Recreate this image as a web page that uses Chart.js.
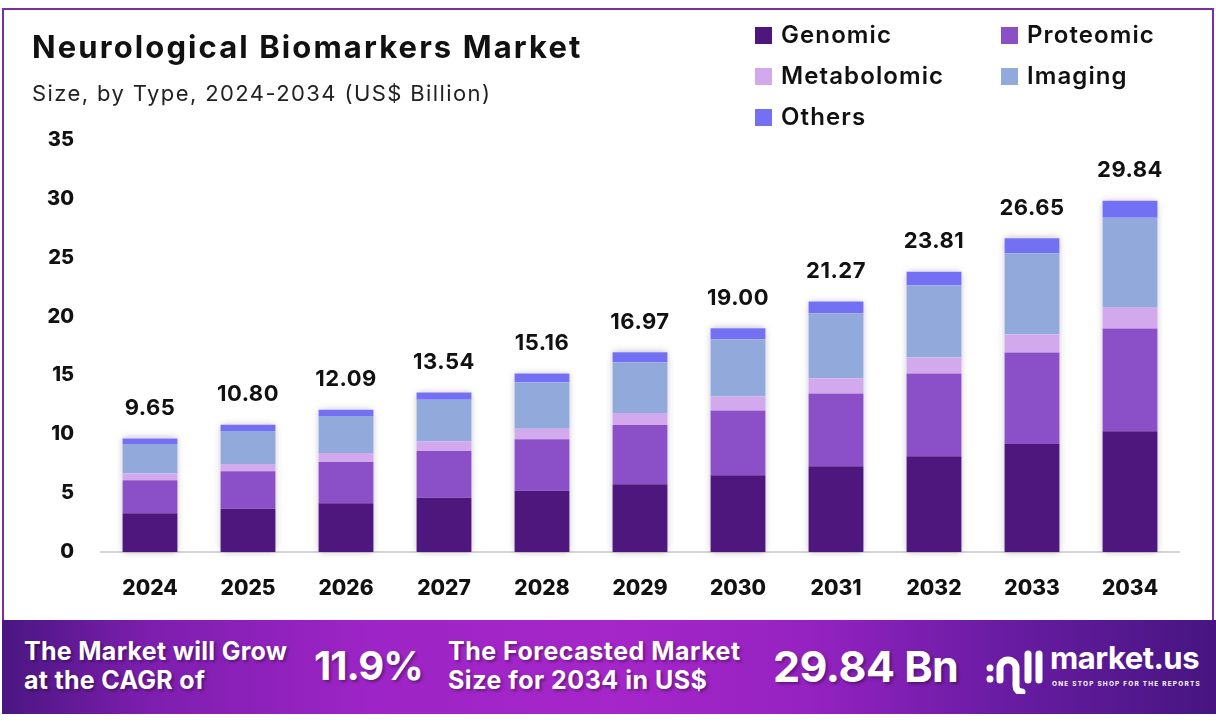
<!DOCTYPE html>
<html>
<head>
<meta charset="utf-8">
<script src="https://cdn.jsdelivr.net/npm/chart.js@4"></script>
<style>
  html, body { margin:0; padding:0; background:#fff; }
  #wrap { position:relative; width:1216px; height:722px; overflow:hidden; background:#fff; font-family: Inter, "Noto Sans", sans-serif; }
  #frame { position:absolute; left:2px; top:8px; width:1208px; height:620px; border:2px solid #7a2f9c; border-bottom:none; }
  #cv { position:absolute; left:0; top:0; }
  .title { position:absolute; left:32px; top:28px; font-weight:700; font-size:31px; color:#111; white-space:nowrap; letter-spacing:2.1px; }
  .sub { position:absolute; left:32px; top:80px; font-weight:400; font-size:22px; color:#222; white-space:nowrap; letter-spacing:1.4px; }
  .leg { position:absolute; font-weight:600; font-size:24px; color:#111; white-space:nowrap; line-height:26px; letter-spacing:1.1px; }
  .leg i { display:inline-block; width:17px; height:17px; margin-right:9px; vertical-align:-1px; }
  #foot { position:absolute; left:2px; top:620px; width:1214px; height:94px;
    background: linear-gradient(90deg, #4a1682 0%, #7d1eae 12%, #9d24c6 30%, #a526c9 50%, #9622c2 66%, #6a1ca4 82%, #461580 100%); }
  .ft { position:absolute; color:#fff; font-weight:700; white-space:nowrap; text-shadow: 2px 2px 3px rgba(0,0,0,0.35); }
</style>
</head>
<body>
<div id="wrap">
  <div id="frame"></div>
  <canvas id="cv" width="1216" height="620"></canvas>
  <div class="title">Neurological Biomarkers Market</div>
  <div class="sub">Size, by Type, 2024-2034 (US$ Billion)</div>
  <div id="legend"></div>
  <div id="foot">
    <div class="ft" style="left:22px;top:17px;font-size:25px;line-height:29px;letter-spacing:0.3px;">The Market will Grow<br>at the CAGR of</div>
    <div class="ft" style="left:312px;top:21px;font-size:40px;letter-spacing:-1px;">11.9%</div>
    <div class="ft" style="left:446px;top:17px;font-size:25px;line-height:29px;letter-spacing:0.5px;">The Forecasted Market<br>Size for 2034 in US$</div>
    <div class="ft" style="left:771px;top:20px;font-size:43px;letter-spacing:-0.5px;">29.84 Bn</div>
    <svg style="position:absolute;left:982px;top:26px;" width="62" height="48" viewBox="0 0 62 48">
      <g fill="none" stroke="#fff" stroke-width="7" stroke-linecap="round">
        <path d="M16 34 V22 a8 8 0 0 1 16 0 V40 a6 6 0 0 0 6 6"/>
        <path d="M44 8 V34"/>
        <path d="M55 8 V34"/>
      </g>
      <circle cx="6" cy="22" r="3.5" fill="#fff"/>
      <circle cx="6" cy="33" r="3.5" fill="#fff"/>
    </svg>
    <div class="ft" style="left:1048px;top:19px;font-size:31px;letter-spacing:-0.5px;text-shadow:none;">market.us</div>
    <div class="ft" style="left:1050px;top:60px;font-size:6.5px;letter-spacing:1.2px;text-shadow:none;">ONE STOP SHOP FOR THE REPORTS</div>
  </div>
</div>
<script>
const years = ["2024","2025","2026","2027","2028","2029","2030","2031","2032","2033","2034"];
const totals = [9.65, 10.80, 12.09, 13.54, 15.16, 16.97, 19.00, 21.27, 23.81, 26.65, 29.84];
const genomic     = [3.30, 3.67, 4.15, 4.60, 5.20, 5.76, 6.53, 7.29, 8.14, 9.18, 10.25];
const proteomic   = [2.80, 3.19, 3.50, 3.98, 4.38, 5.03, 5.50, 6.18, 7.03, 7.77, 8.73];
const metabolomic = [0.57, 0.62, 0.77, 0.83, 0.90, 1.02, 1.19, 1.30, 1.36, 1.52, 1.78];
const imaging     = [2.51, 2.80, 3.13, 3.53, 3.93, 4.32, 4.86, 5.51, 6.12, 6.90, 7.63];
const others      = [0.47, 0.52, 0.54, 0.60, 0.75, 0.84, 0.92, 0.99, 1.16, 1.28, 1.45];
const yTicks = [0, 5, 10, 15, 20, 25, 30, 35];

const seriesNames = ["Genomic","Proteomic","Metabolomic","Imaging","Others"];
const seriesColors = ["#4e177d","#8b4fc8","#d1a9ec","#91a9db","#7470f4"];
const seriesData = [genomic, proteomic, metabolomic, imaging, others];

const FONT = 'Inter, "Noto Sans", sans-serif';

// legend (HTML)
const legPos = [[755,22],[1001,22],[755,63],[1001,63],[755,104]];
const legEl = document.getElementById('legend');
seriesNames.forEach((n,i)=>{
  const d = document.createElement('div');
  d.className='leg';
  d.style.left = legPos[i][0]+'px';
  d.style.top = legPos[i][1]+'px';
  d.innerHTML = '<i style="background:'+seriesColors[i]+'"></i>'+n;
  legEl.appendChild(d);
});

const shadowPlugin = {
  id:'barShadow',
  beforeDatasetsDraw(chart){
    const ctx = chart.ctx, y = chart.scales.y;
    const meta = chart.getDatasetMeta(0);
    ctx.save();
    ctx.shadowColor = 'rgba(60,40,80,0.35)';
    ctx.shadowBlur = 7;
    ctx.fillStyle = '#fff';
    meta.data.forEach((bar,i)=>{
      const top = y.getPixelForValue(totals[i]);
      const base = y.getPixelForValue(0);
      ctx.fillRect(bar.x - bar.width/2, top, bar.width, base-top);
    });
    ctx.restore();
  },
  afterDatasetsDraw(chart){
    const ctx = chart.ctx, y = chart.scales.y;
    const meta = chart.getDatasetMeta(0);
    ctx.save();
    ctx.font = '700 22px ' + FONT;
    ctx.letterSpacing = '0.5px';
    ctx.fillStyle = '#111';
    ctx.textAlign = 'center';
    ctx.textBaseline = 'middle';
    meta.data.forEach((bar,i)=>{
      const top = y.getPixelForValue(totals[i]);
      ctx.fillText(totals[i].toFixed(2), bar.x, top - 30);
    });
    ctx.restore();
  }
};

new Chart(document.getElementById('cv'), {
  type:'bar',
  data:{
    labels: years,
    datasets: seriesData.map((d,i)=>({
      label: seriesNames[i], data: d, backgroundColor: seriesColors[i],
      borderWidth:0, barPercentage:0.56, categoryPercentage:1.0
    }))
  },
  options:{
    responsive:false, animation:false, devicePixelRatio:1,
    layout:{ padding:{ left:0, right:37, top:140, bottom:0 } },
    plugins:{ legend:{display:false}, tooltip:{enabled:false}, title:{display:false} },
    scales:{
      x:{
        stacked:true,
        grid:{ display:false },
        border:{ display:true, color:'#d6d6d6', width:2 },
        ticks:{ color:'#111', font:{ family:FONT, size:21, weight:'800' }, padding:16 },
        afterFit(s){ s.height = 68; }
      },
      y:{
        stacked:true, min:0, max:35,
        afterBuildTicks(s){ s.ticks = yTicks.map(v=>({value:v})); },
        grid:{ display:false },
        border:{ display:false },
        ticks:{ color:'#111', font:{ family:FONT, size:20, weight:'800' }, padding:19 },
        afterFit(s){ s.width = 101; }
      }
    }
  },
  plugins:[shadowPlugin]
});
</script>
</body>
</html>
